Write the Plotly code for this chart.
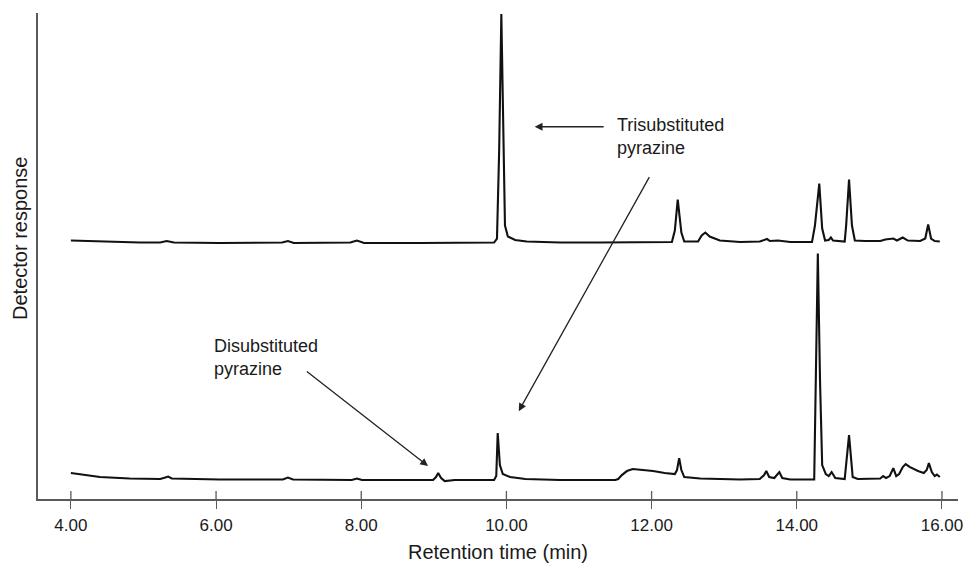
import plotly.graph_objects as go

# Retention time (min) and detector response (arbitrary units)
upper_time = [4.00, 4.40, 4.95, 5.23, 5.32, 5.42, 6.05, 6.91, 6.99, 7.07, 7.85, 7.94, 8.04, 8.81,
              9.64, 9.83, 9.87, 9.90, 9.93, 9.95, 9.98, 10.02, 10.12, 10.28, 10.74, 11.29, 11.84,
              12.28, 12.32, 12.36, 12.41, 12.45, 12.64, 12.69, 12.74, 12.80, 12.94, 13.22, 13.49,
              13.56, 13.59, 13.63, 13.74, 13.91, 14.21, 14.25, 14.31, 14.35, 14.39, 14.44, 14.47,
              14.50, 14.66, 14.68, 14.72, 14.76, 14.80, 14.94, 15.15, 15.22, 15.33, 15.38, 15.46,
              15.53, 15.70, 15.77, 15.81, 15.85, 15.90, 15.97]
upper_resp = [29, 28, 27, 27, 28.5, 27, 26.5, 27, 28.5, 26.5, 27, 29, 26.5, 26.5,
              27, 27, 31, 119, 256, 169, 44, 33, 29.5, 28, 27, 27, 27,
              27.5, 39, 70, 37, 28, 28, 34, 37, 33, 29, 27.5, 28,
              30, 30.5, 28.5, 29, 27.5, 27.5, 44, 86, 41, 29, 29.5, 32,
              29, 28, 44, 90, 44, 29, 28.5, 28.5, 30, 31, 29, 32,
              29, 28.5, 31, 45, 31, 28.5, 28]

lower_time = [4.00, 4.19, 4.40, 4.81, 5.23, 5.30, 5.34, 5.39, 6.05, 6.92, 6.99, 7.06, 7.87, 7.94,
              8.01, 8.81, 8.99, 9.03, 9.06, 9.10, 9.15, 9.29, 9.50, 9.83, 9.86, 9.88, 9.91, 9.95,
              10.05, 10.26, 10.74, 11.29, 11.50, 11.54, 11.59, 11.66, 11.74, 11.88, 12.02, 12.18,
              12.32, 12.35, 12.38, 12.41, 12.45, 12.67, 13.22, 13.49, 13.55, 13.58, 13.62, 13.69,
              13.73, 13.76, 13.80, 13.91, 14.24, 14.26, 14.29, 14.32, 14.35, 14.40, 14.44, 14.48,
              14.53, 14.66, 14.69, 14.72, 14.75, 14.77, 14.84, 15.15, 15.19, 15.23, 15.28, 15.33,
              15.37, 15.41, 15.46, 15.50, 15.56, 15.67, 15.75, 15.79, 15.82, 15.86, 15.90, 15.93,
              15.97]
lower_resp = [26, 24, 22, 20.5, 20, 21.5, 22.5, 20.5, 19.5, 19.5, 21.5, 19.5, 19, 20.5,
              19, 19, 19, 22, 26, 21, 18, 19, 19, 19, 23, 66, 34, 25,
              22, 20, 19, 19, 19, 20, 24, 28, 30, 29, 28, 26,
              25, 29, 41, 29, 22, 20.5, 19.5, 20, 24, 28, 22, 21,
              24, 27, 21, 19.5, 19.5, 99, 246, 119, 34, 25, 23, 27,
              21, 20, 39, 64, 39, 22, 20, 20.5, 23, 21, 23, 31,
              23, 25, 32, 35, 32, 28, 26, 29, 36, 27, 23, 24.5,
              22]

upper_offset = 230  # vertical stacking of the upper chromatogram

tick_vals = [4, 6, 8, 10, 12, 14, 16]
tick_text = ["4.00", "6.00", "8.00", "10.00", "12.00", "14.00", "16.00"]

FONT = "Arial, Liberation Sans, sans-serif"
INK = "#1a1a1a"
AXIS = "#5a5a5a"

fig = go.Figure()
fig.add_trace(go.Scatter(x=upper_time, y=[v + upper_offset for v in upper_resp], mode="lines",
                         line=dict(color="#111111", width=2.1), showlegend=False, name="upper"))
fig.add_trace(go.Scatter(x=lower_time, y=lower_resp, mode="lines",
                         line=dict(color="#111111", width=2.1), showlegend=False, name="lower"))

xr = [3.547, 16.221]
plot_h = 486
fig.update_layout(
    width=965, height=566,
    margin=dict(l=38, r=7, t=13, b=67),
    paper_bgcolor="white", plot_bgcolor="white",
    font=dict(family=FONT, color=INK, size=17),
    xaxis=dict(range=xr, tickvals=tick_vals, ticktext=tick_text, ticks="outside", ticklen=8,
               tickwidth=1.3, tickcolor=AXIS, showline=True, linecolor=AXIS, linewidth=1.5,
               showgrid=False, zeroline=False, tickfont=dict(size=17, color=INK),
               ticklabelstandoff=2, automargin=False,
               title=dict(text="Retention time (min)", font=dict(size=20, color=INK), standoff=11)),
    yaxis=dict(range=[0, 487], showline=True, linecolor=AXIS, linewidth=1.5, ticks="",
               showticklabels=False, showgrid=False, zeroline=False, automargin=False),
)

# upper halves of the tick marks (the reference ticks cross the axis line)
for v in tick_vals:
    fig.add_shape(type="line", xref="x", yref="y domain", x0=v, x1=v, y0=0, y1=8 / plot_h,
                  line=dict(color=AXIS, width=1.3), layer="above")

# y-axis title placed as rotated text (sits above the plot centre in the reference)
fig.add_annotation(x=-0.0196, y=0.537, xref="paper", yref="paper", text="Detector response",
                   textangle=-90, showarrow=False, xanchor="center", yanchor="middle",
                   font=dict(size=20, color=INK, family=FONT))

arrow = dict(showarrow=True, arrowhead=2, arrowsize=1.2, arrowwidth=1.3, arrowcolor="#222222",
             xref="x", yref="y", axref="x", ayref="y", text="")
fig.add_annotation(x=10.39, y=373, ax=11.36, ay=373, **arrow)
fig.add_annotation(x=10.17, y=88, ax=11.98, ay=324, **arrow)
fig.add_annotation(x=8.92, y=33, ax=7.23, ay=129, **arrow)

fig.add_annotation(x=11.50, y=363, xref="x", yref="y", xanchor="left", yanchor="middle",
                   text="Trisubstituted<br>pyrazine", showarrow=False, align="left",
                   font=dict(size=18, color=INK, family=FONT))
fig.add_annotation(x=5.94, y=141.5, xref="x", yref="y", xanchor="left", yanchor="middle",
                   text="Disubstituted<br>pyrazine", showarrow=False, align="left",
                   font=dict(size=18, color=INK, family=FONT))

# remove the browser's default 8px page margin so the 965x566 figure fills the window
fig.write_html("out.html", config={"displayModeBar": False},
               post_script="document.body.style.margin='0';")
